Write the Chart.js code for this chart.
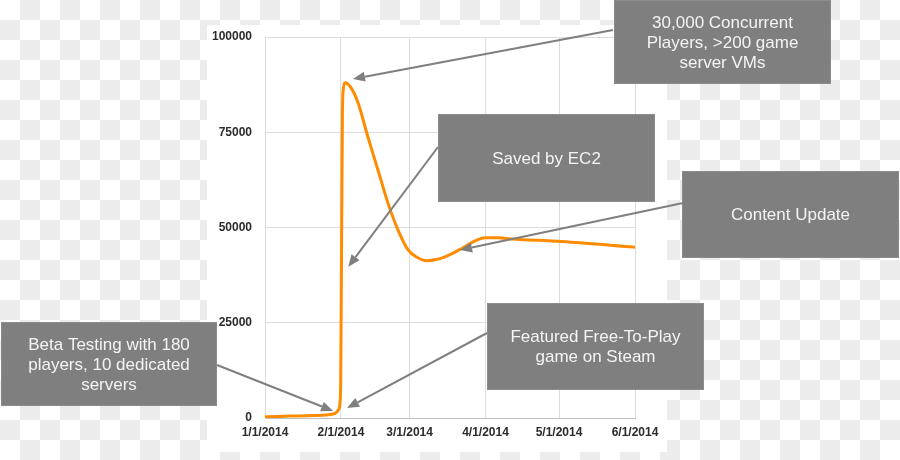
<!DOCTYPE html>
<html>
<head>
<meta charset="utf-8">
<script src="https://cdn.jsdelivr.net/npm/chart.js@4/dist/chart.umd.min.js"></script>
<style>
  html, body { margin: 0; padding: 0; }
  body {
    width: 900px; height: 460px; overflow: hidden;
    background-color: #ffffff;
    background-image: conic-gradient(#ececec 25%, #ffffff 0 50%, #ececec 0 75%, #ffffff 0);
    background-size: 40px 40px;
  }
  #wrap { position: relative; width: 900px; height: 460px; }
  canvas { display: block; }
</style>
</head>
<body>
<div id="wrap"><canvas id="c" width="900" height="460"></canvas></div>
<script>
// ---- data (days since 1/1/2014, concurrent players) ----
const tickDays   = [0, 31, 59, 90, 120, 151];
const tickLabels = ['1/1/2014', '2/1/2014', '3/1/2014', '4/1/2014', '5/1/2014', '6/1/2014'];
const yTicks     = [0, 25000, 50000, 75000, 100000];

const days    = [0, 10, 20, 25, 28.6, 29.9, 30.6, 30.9, 31.2, 31.6, 32.0, 32.6, 35, 38.0, 42.0, 46.1, 50.2, 54.3, 58.4, 62, 66.0, 70, 73.5, 80.3, 85.7, 89.8, 95, 100.7, 121.1, 151];
const players = [350, 500, 650, 800, 1200, 2100, 4000, 10000, 40000, 80000, 86500, 88000, 86800, 82700, 73750, 65100, 56400, 49300, 44100, 42200, 41300, 41600, 42300, 44500, 46500, 47300, 47300, 47000, 46300, 44800];

// ---- annotation callouts ----
const notes = [
  { lines: ['30,000 Concurrent', 'Players, >200 game', 'server VMs'], box: [614, 0, 217, 84], from: [613, 30], tip: [35.9, 89000] },
  { lines: ['Saved by EC2'], box: [438, 114, 217, 88], from: [438, 147], tip: [34.0, 39700] },
  { lines: ['Content Update'], box: [682, 171, 217, 87], from: [683, 203], tip: [79.6, 44100] },
  { lines: ['Featured Free-To-Play', 'game on Steam'], box: [487, 303, 217, 87], from: [487, 333], tip: [33.5, 2600] },
  { lines: ['Beta Testing with 180', 'players, 10 dedicated', 'servers'], box: [1, 322, 216, 84], from: [217, 365], tip: [27.8, 1850] }
];

const points = days.map((d, i) => ({ x: d, y: players[i] }));

const whiteBg = {
  id: 'whiteBg',
  beforeDraw(chart) {
    const ctx = chart.ctx;
    ctx.save();
    ctx.fillStyle = '#ffffff';
    ctx.fillRect(207, 25, 460, 427);
    ctx.restore();
  }
};

const callouts = {
  id: 'callouts',
  afterDraw(chart) {
    const ctx = chart.ctx;
    const xs = chart.scales.x, ys = chart.scales.y;
    ctx.save();
    notes.forEach(n => {
      const [bx, by, bw, bh] = n.box;
      ctx.fillStyle = '#7f7f7f';
      ctx.fillRect(bx, by, bw, bh);
      ctx.strokeStyle = '#8c8c8c';
      ctx.lineWidth = 1;
      ctx.strokeRect(bx + 0.5, by + 0.5, bw - 1, bh - 1);
      ctx.fillStyle = '#f4f4f4';
      ctx.font = '17px "Liberation Sans", Arial, sans-serif';
      ctx.textAlign = 'center';
      ctx.textBaseline = 'middle';
      const lh = 20;
      const cy = by + bh / 2 + 1;
      const start = cy - (n.lines.length - 1) * lh / 2;
      n.lines.forEach((t, i) => ctx.fillText(t, bx + bw / 2, start + i * lh));
    });
    notes.forEach(n => {
      const [fx, fy] = n.from;
      const tx = xs.getPixelForValue(n.tip[0]);
      const ty = ys.getPixelForValue(n.tip[1]);
      const ang = Math.atan2(ty - fy, tx - fx);
      const L = 12, W = 5;
      const bxp = tx - L * Math.cos(ang), byp = ty - L * Math.sin(ang);
      ctx.strokeStyle = '#7f7f7f';
      ctx.lineWidth = 2;
      ctx.beginPath();
      ctx.moveTo(fx, fy);
      ctx.lineTo(bxp, byp);
      ctx.stroke();
      ctx.fillStyle = '#7f7f7f';
      ctx.beginPath();
      ctx.moveTo(tx, ty);
      ctx.lineTo(bxp + W * Math.sin(ang), byp - W * Math.cos(ang));
      ctx.lineTo(bxp - W * Math.sin(ang), byp + W * Math.cos(ang));
      ctx.closePath();
      ctx.fill();
    });
    ctx.restore();
  }
};

const tickFont = { family: '"Liberation Sans", Arial, sans-serif', size: 12, weight: 'bold' };

new Chart(document.getElementById('c'), {
  type: 'line',
  data: {
    datasets: [{
      data: points,
      borderColor: '#ff8c00',
      borderWidth: 3,
      pointRadius: 0,
      fill: false,
      cubicInterpolationMode: 'monotone'
    }]
  },
  options: {
    responsive: false,
    animation: false,
    events: [],
    layout: { padding: { top: 37, right: 265, bottom: 12, left: 0 } },
    plugins: { legend: { display: false }, tooltip: { enabled: false } },
    scales: {
      x: {
        type: 'linear',
        min: 0,
        max: 151,
        afterBuildTicks(axis) { axis.ticks = tickDays.map(v => ({ value: v })); },
        afterFit(axis) { axis.height = 30; },
        grid: { color: '#dcdcdc', drawTicks: false },
        border: { color: '#bfbfbf' },
        ticks: {
          autoSkip: false, maxRotation: 0, padding: 7,
          color: '#2b2b2b', font: tickFont,
          callback(v) { const i = tickDays.indexOf(v); return i >= 0 ? tickLabels[i] : ''; }
        }
      },
      y: {
        min: 0,
        max: 100000,
        afterBuildTicks(axis) { axis.ticks = yTicks.map(v => ({ value: v })); },
        afterFit(axis) { axis.width = 265; },
        grid: { color: '#dcdcdc', drawTicks: false },
        border: { color: '#dcdcdc' },
        ticks: {
          padding: 13, color: '#2b2b2b', font: tickFont,
          callback(v) { return String(v); }
        }
      }
    }
  },
  plugins: [whiteBg, callouts]
});
</script>
</body>
</html>
